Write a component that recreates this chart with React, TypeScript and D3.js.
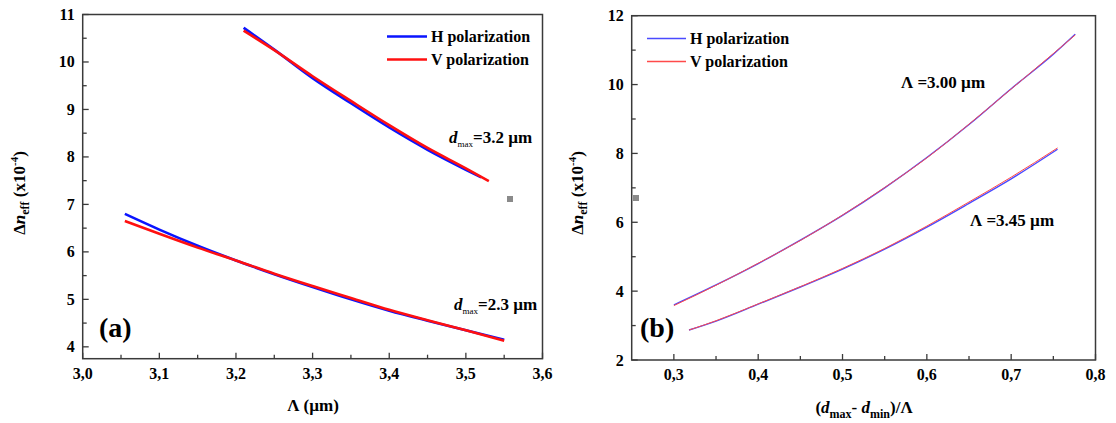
import React from "react";
import * as d3 from "d3";

// panel (a): birefringence vs pitch
const lambdaUpperH = [3.21, 3.25, 3.3, 3.35, 3.4, 3.45, 3.5, 3.52];
const upperH = [10.72, 10.26, 9.66, 9.13, 8.62, 8.15, 7.73, 7.57];
const lambdaUpperV = [3.21, 3.25, 3.3, 3.35, 3.4, 3.45, 3.5, 3.53];
const upperV = [10.66, 10.25, 9.7, 9.18, 8.67, 8.19, 7.76, 7.49];

const lambdaLower = [3.055, 3.1, 3.15, 3.2, 3.25, 3.3, 3.35, 3.4, 3.45, 3.5, 3.55];
const lowerH = [6.8, 6.47, 6.13, 5.82, 5.53, 5.26, 5.0, 4.76, 4.55, 4.35, 4.15];
const lowerV = [6.65, 6.38, 6.09, 5.82, 5.54, 5.28, 5.03, 4.78, 4.56, 4.35, 4.13];

// panel (b): birefringence vs (dmax - dmin)/pitch
const ratioA = [0.3, 0.35, 0.4, 0.45, 0.5, 0.55, 0.6, 0.65, 0.7, 0.75, 0.776];
const pitchA_H = [3.6, 4.18, 4.8, 5.48, 6.2, 7.0, 7.88, 8.84, 9.88, 10.88, 11.46];
const pitchA_V = [3.58, 4.17, 4.81, 5.47, 6.21, 7.01, 7.87, 8.85, 9.87, 10.9, 11.44];

const ratioB = [0.318, 0.35, 0.4, 0.45, 0.5, 0.55, 0.6, 0.65, 0.7, 0.755];
const pitchB_H = [2.87, 3.13, 3.62, 4.12, 4.64, 5.22, 5.86, 6.55, 7.26, 8.12];
const pitchB_V = [2.87, 3.14, 3.63, 4.13, 4.66, 5.24, 5.89, 6.59, 7.31, 8.16];

const xTicksA = [3.0, 3.1, 3.2, 3.3, 3.4, 3.5, 3.6];
const yTicksA = [4, 5, 6, 7, 8, 9, 10, 11];
const xTicksB = [0.3, 0.4, 0.5, 0.6, 0.7, 0.8];
const yTicksB = [2, 4, 6, 8, 10, 12];

const legendNames = ["H polarization", "V polarization"];

const BLUE = "#0a14ff";
const RED = "#ff1010";
const BLUE_B = "#4a4aff";
const RED_B = "#ff4a4a";
const FRAME = "#3a3a3a";
const FONT = "'Liberation Serif', 'Times New Roman', Times, 'DejaVu Serif', serif";

const zip = (xs: number[], ys: number[]) => xs.map((x, i) => [x, ys[i]] as [number, number]);
const comma = (v: number) => d3.format(".1f")(v).replace(".", ",");

type Series = { pts: [number, number][]; color: string; width: number };

function Panel(props: {
  x0: number; x1: number; y0: number; y1: number;
  xDomain: [number, number]; yDomain: [number, number];
  xTicks: number[]; yTicks: number[];
  xMinor: number[]; yMinor: number[];
  xFmt: (v: number) => string;
  series: Series[];
}) {
  const { x0, x1, y0, y1 } = props;
  const x = d3.scaleLinear().domain(props.xDomain).range([x0, x1]);
  const y = d3.scaleLinear().domain(props.yDomain).range([y1, y0]);
  const line = d3
    .line<[number, number]>()
    .x((d) => x(d[0]))
    .y((d) => y(d[1]))
    .curve(d3.curveMonotoneX);

  return (
    <g>
      {props.series.map((s, i) => (
        <path key={i} d={line(s.pts) || ""} fill="none" stroke={s.color} strokeWidth={s.width} />
      ))}
      <rect x={x0} y={y0} width={x1 - x0} height={y1 - y0} fill="none" stroke={FRAME} strokeWidth={1.5} />
      {props.xTicks.map((t) => (
        <g key={"x" + t}>
          <line x1={x(t)} x2={x(t)} y1={y1} y2={y1 - 6} stroke={FRAME} strokeWidth={1.3} />
          <text x={x(t)} y={y1 + 20} textAnchor="middle" fontSize={16} fontWeight="bold">
            {props.xFmt(t)}
          </text>
        </g>
      ))}
      {props.xMinor.map((t) => (
        <line key={"xm" + t} x1={x(t)} x2={x(t)} y1={y1} y2={y1 - 4} stroke={FRAME} strokeWidth={1.3} />
      ))}
      {props.yTicks.map((t) => (
        <g key={"y" + t}>
          <line x1={x0} x2={x0 + 6} y1={y(t)} y2={y(t)} stroke={FRAME} strokeWidth={1.3} />
          <text x={x0 - 8} y={y(t) + 5.5} textAnchor="end" fontSize={16} fontWeight="bold">
            {t}
          </text>
        </g>
      ))}
      {props.yMinor.map((t) => (
        <line key={"ym" + t} x1={x0} x2={x0 + 4} y1={y(t)} y2={y(t)} stroke={FRAME} strokeWidth={1.3} />
      ))}
    </g>
  );
}

function Legend({ x, y, lineLen, colors, width }: { x: number; y: number; lineLen: number; colors: string[]; width: number }) {
  return (
    <g>
      {legendNames.map((name, i) => (
        <g key={name} transform={`translate(${x},${y + i * 23})`}>
          <line x1={0} x2={lineLen} y1={0} y2={0} stroke={colors[i]} strokeWidth={width} />
          <text x={lineLen + 4} y={5} fontSize={16} fontWeight="bold">{name}</text>
        </g>
      ))}
    </g>
  );
}

function YTitle({ cx, cy }: { cx: number; cy: number }) {
  return (
    <text transform={`translate(${cx},${cy}) rotate(-90)`} textAnchor="middle" fontSize={17} fontWeight="bold">
      <tspan>Δ</tspan>
      <tspan fontStyle="italic">n</tspan>
      <tspan fontSize={12} dy={4}>eff</tspan>
      <tspan dy={-4}> (x10</tspan>
      <tspan fontSize={11} dy={-7}>-4</tspan>
      <tspan dy={7}>)</tspan>
    </text>
  );
}

export default function App() {
  const minorA = d3.range(3.05, 3.6, 0.1);
  const minorAy = d3.range(4.5, 11, 1);
  const minorB = d3.range(0.35, 0.8, 0.1);
  const minorBy = d3.range(3, 12, 2);

  return (
    <div style={{ position: "absolute", left: 0, top: 0 }}>
      <svg width={1116} height={423} style={{ display: "block", background: "#fff", fontFamily: FONT }}>
        <g>
          {/* panel (a) */}
          <Panel
            x0={82.7} x1={542.5} y0={14.5} y1={358.7}
            xDomain={[3.0, 3.6]} yDomain={[3.75, 11]}
            xTicks={xTicksA} yTicks={yTicksA}
            xMinor={minorA} yMinor={minorAy}
            xFmt={comma}
            series={[
              { pts: zip(lambdaUpperH, upperH), color: BLUE, width: 2.6 },
              { pts: zip(lambdaUpperV, upperV), color: RED, width: 2.6 },
              { pts: zip(lambdaLower, lowerH), color: BLUE, width: 2.6 },
              { pts: zip(lambdaLower, lowerV), color: RED, width: 2.6 },
            ]}
          />
          <rect x={507} y={196} width={6} height={6} fill="#8a8a8a" />
          <Legend x={387} y={36.5} lineLen={40} colors={[BLUE, RED]} width={2.5} />
          <text x={449} y={143} fontSize={17} fontWeight="bold">
            <tspan fontStyle="italic">d</tspan>
            <tspan fontSize={9} fontWeight="normal" dy={4}>max</tspan>
            <tspan dy={-4}>=3.2 µm</tspan>
          </text>
          <text x={454} y={310} fontSize={17} fontWeight="bold">
            <tspan fontStyle="italic">d</tspan>
            <tspan fontSize={9} fontWeight="normal" dy={4}>max</tspan>
            <tspan dy={-4}>=2.3 µm</tspan>
          </text>
          <text x={99} y={337} fontSize={28} fontWeight="bold">(a)</text>
          <YTitle cx={25} cy={193} />
          <text x={313} y={411} textAnchor="middle" fontSize={17} fontWeight="bold">Λ (µm)</text>

          {/* panel (b) */}
          <Panel
            x0={631.7} x1={1095.5} y0={15.7} y1={360}
            xDomain={[0.25, 0.8]} yDomain={[2, 12]}
            xTicks={xTicksB} yTicks={yTicksB}
            xMinor={minorB} yMinor={minorBy}
            xFmt={comma}
            series={[
              { pts: zip(ratioA, pitchA_H), color: BLUE_B, width: 1.4 },
              { pts: zip(ratioA, pitchA_V), color: RED_B, width: 1 },
              { pts: zip(ratioB, pitchB_H), color: BLUE_B, width: 1.4 },
              { pts: zip(ratioB, pitchB_V), color: RED_B, width: 1 },
            ]}
          />
          <rect x={633} y={195} width={6} height={6} fill="#8a8a8a" />
          <Legend x={647} y={38.5} lineLen={39} colors={[BLUE_B, RED_B]} width={1.3} />
          <text x={901} y={88} fontSize={17} fontWeight="bold">Λ =3.00 µm</text>
          <text x={970} y={226} fontSize={17} fontWeight="bold">Λ =3.45 µm</text>
          <text x={640} y={337} fontSize={28} fontWeight="bold">(b)</text>
          <YTitle cx={583} cy={193} />
          <text x={864} y={413} textAnchor="middle" fontSize={17} fontWeight="bold">
            <tspan>(</tspan>
            <tspan fontStyle="italic">d</tspan>
            <tspan fontSize={12} dy={5}>max</tspan>
            <tspan dy={-5}>- </tspan>
            <tspan fontStyle="italic">d</tspan>
            <tspan fontSize={12} dy={5}>min</tspan>
            <tspan dy={-5}>)/Λ</tspan>
          </text>
        </g>
      </svg>
    </div>
  );
}
